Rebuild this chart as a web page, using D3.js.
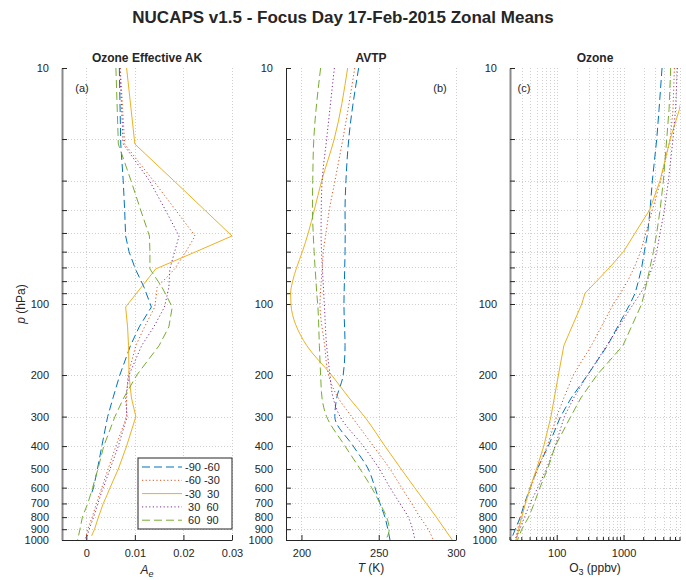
<!DOCTYPE html>
<html>
<head>
<meta charset="utf-8">
<script src="https://cdn.jsdelivr.net/npm/d3@7"></script>
<style>
  body { margin: 0; background: #fff; }
  text { font-family: "Liberation Sans", Arial, Helvetica, sans-serif; fill: #262626; }
</style>
</head>
<body>
<svg id="chart" width="686" height="580"></svg>
<script>
// zonal bands, legend order
const bandNames = ["-90 -60", "-60 -30", "-30  30", " 30  60", " 60  90"];

// (a) ozone effective averaging kernel
const akLevels = [10, 21, 30, 40, 51.5, 60, 71, 85, 103, 125, 150, 200, 250, 300, 400, 500, 600, 650, 700, 800, 900, 960, 1000];
const akValues = [
  [0.0068, 0.0071, 0.0076, 0.0079, 0.0081, 0.0088, 0.0101, 0.0119, 0.0134, 0.0109, 0.0091, 0.0069, 0.0055, 0.0044, 0.0032, 0.0023, 0.0015, 0.0009, null, null, null, null, null],
  [0.0070, 0.0079, 0.0138, 0.0184, 0.0224, 0.0205, 0.0182, 0.0146, 0.0141, 0.0120, 0.0102, 0.0086, 0.0083, 0.0083, 0.0061, 0.0045, 0.0032, 0.0026, 0.0021, 0.0012, 0.0003, 0.0000, -0.0003],
  [0.0083, 0.0100, 0.0180, 0.0244, 0.0300, 0.0226, 0.0143, 0.0113, 0.0081, 0.0085, 0.0087, 0.0088, 0.0093, 0.0102, 0.0083, 0.0066, 0.0049, 0.0042, 0.0035, 0.0025, 0.0017, 0.0011, null],
  [0.0069, 0.0076, 0.0130, 0.0163, 0.0191, 0.0182, 0.0172, 0.0170, 0.0161, 0.0139, 0.0114, 0.0088, 0.0081, 0.0084, 0.0066, 0.0049, 0.0035, 0.0029, 0.0024, 0.0015, 0.0006, 0.0002, 0.0000],
  [0.0061, 0.0066, 0.0092, 0.0112, 0.0130, 0.0131, 0.0131, 0.0156, 0.0177, 0.0170, 0.0150, 0.0104, 0.0077, 0.0059, 0.0036, 0.0024, 0.0013, 0.0008, 0.0003, -0.0008, -0.0013, -0.0016, -0.0018]
];

// (b) AVTP temperature (K)
const tLevels = [10, 20, 30, 40, 50, 60, 70, 80, 90, 100, 150, 200, 250, 300, 400, 500, 600, 700, 800, 900, 1000];
const tValues = [
  [237.0, 230.6, 228.8, 228.2, 228.3, 228.2, 228.0, 227.8, 227.6, 227.5, 228.2, 227.0, 222.8, 221.6, 233.5, 243.2, 247.6, 250.8, 254.0, 255.9, 257.3],
  [234.5, 226.8, 221.7, 218.0, 215.9, 214.2, 213.5, 212.8, 212.3, 212.0, 215.0, 217.5, 223.8, 232.5, 246.5, 257.3, 264.8, 271.3, 276.7, 282.0, 285.3],
  [229.9, 221.2, 213.1, 208.3, 204.4, 200.6, 196.9, 194.3, 193.0, 193.2, 203.4, 219.5, 230.8, 240.8, 254.0, 264.5, 273.2, 280.8, 287.3, 292.7, 297.6],
  [221.3, 216.3, 213.4, 212.8, 212.7, 213.0, 213.5, 214.0, 214.4, 214.8, 216.3, 218.5, 220.5, 225.0, 240.0, 250.4, 257.3, 263.7, 269.1, 271.9, 273.4],
  [212.4, 208.0, 207.3, 207.1, 207.6, 208.2, 208.8, 209.4, 209.9, 210.5, 211.6, 212.4, 213.3, 216.3, 228.2, 237.9, 245.4, 250.8, 255.1, 256.8, 254.5]
];

// (c) ozone (ppbv)
const o3Levels = [10, 15, 20, 30, 40, 50, 60, 70, 80, 90, 100, 150, 200, 250, 300, 400, 500, 600, 700, 800, 900, 1000];
const o3Values = [
  [3770, 3400, 3140, 2700, 2490, 2300, 2050, 1870, 1670, 1490, 1250, 575, 290, 165, 114, 75, 51, 40, 33, 28.5, 24, 20.7],
  [5770, 5500, 5000, 3600, 2700, 2150, 1800, 1450, 1150, 900, 705, 330, 177, 128, 100, 72, 52, 41, 34, 29, 26, 24],
  [9000, 6850, 5000, 3520, 2450, 1490, 1000, 620, 396, 265, 237, 128, 106, 92, 82, 64, 50, 40, 34, 30, 27, 25],
  [6400, 6000, 5500, 4700, 4100, 3520, 3140, 2700, 2250, 1800, 1400, 560, 290, 180, 130, 95, 70, 52, 40, 33, 28, 24],
  [5080, 4800, 4430, 3950, 3520, 3140, 2800, 2490, 2250, 2050, 1870, 980, 400, 230, 162, 95, 73, 56, 46, 38, 30, 26]
];

const pTicks = [10, 20, 30, 40, 50, 60, 70, 80, 90, 100, 200, 300, 400, 500, 600, 700, 800, 900, 1000];
const pLabels = [10, 100, 200, 300, 400, 500, 600, 700, 800, 900, 1000];
const akTicks = [0, 0.01, 0.02, 0.03];
const tTicks = [200, 250, 300];
const o3Major = [100, 1000];
const o3Minor = [20, 30, 40, 50, 60, 70, 80, 90, 200, 300, 400, 500, 600, 700, 800, 900, 2000, 3000, 4000, 5000, 6000, 7000];

// styles
const colors = ["#0072BD", "#D95319", "#EDB120", "#7E2F8E", "#77AC30"];
const dashes = ["8,4", "1.2,2.4", null, "1.2,2.4", "8,4"];

const svg = d3.select("#chart");
const plotTop = 68, plotBottom = 540;
const y = d3.scaleLog().domain([10, 1000]).range([plotTop, plotBottom]);

svg.append("text").attr("x", 343).attr("y", 23).attr("text-anchor", "middle")
  .attr("font-size", 17).attr("font-weight", "bold")
  .text("NUCAPS v1.5 - Focus Day 17-Feb-2015 Zonal Means");

function drawPanel(o) {
  const g = svg.append("g");
  const x = o.x;
  const [x0, x1] = x.range();

  g.append("clipPath").attr("id", "clip-" + o.tag)
    .append("rect").attr("x", x0).attr("y", plotTop).attr("width", x1 - x0).attr("height", plotBottom - plotTop);

  // grid
  const grid = g.append("g").attr("stroke", "#cfcfcf").attr("stroke-dasharray", "1,2").attr("stroke-width", 1);
  grid.selectAll("line.h").data(pTicks.slice(1)).join("line")
    .attr("x1", x0).attr("x2", x1).attr("y1", d => Math.round(y(d)) + 0.5).attr("y2", d => Math.round(y(d)) + 0.5);
  grid.selectAll("line.v").data(o.grid).join("line")
    .attr("x1", d => Math.round(x(d)) + 0.5).attr("x2", d => Math.round(x(d)) + 0.5)
    .attr("y1", plotTop).attr("y2", plotBottom);

  // y axis (ticks inward)
  const yAxis = d3.axisLeft(y).tickValues(pTicks).tickSizeInner(-5).tickSizeOuter(0).tickPadding(13)
    .tickFormat(d => pLabels.includes(d) ? d : "");
  const ya = g.append("g").attr("transform", `translate(${x0},0)`).call(yAxis);
  ya.selectAll("text").attr("font-size", 11).attr("font-family", null);
  ya.selectAll("line").attr("stroke", "#262626");
  ya.select(".domain").attr("stroke", o.axisColor).attr("stroke-width", o.axisWidth);

  // x axis (ticks inward)
  const xAxis = d3.axisBottom(x).tickValues(o.ticks).tickSizeInner(-5).tickSizeOuter(0).tickPadding(9)
    .tickFormat(o.format);
  const xa = g.append("g").attr("transform", `translate(0,${plotBottom})`).call(xAxis);
  xa.selectAll("text").attr("font-size", 11).attr("font-family", null);
  xa.selectAll("line").attr("stroke", "#262626");
  xa.select(".domain").attr("stroke", "#262626");
  if (o.minor) {
    xa.selectAll("line.minor").data(o.minor).join("line").attr("class", "minor")
      .attr("x1", d => x(d)).attr("x2", d => x(d)).attr("y1", 0).attr("y2", -3).attr("stroke", "#262626");
  }

  // profiles
  const line = d3.line().defined(d => d.v != null)
    .x(d => x(d.v)).y(d => y(d.p)).curve(o.curve);
  const lines = g.append("g").attr("clip-path", `url(#clip-${o.tag})`);
  o.values.forEach((vals, i) => {
    const pts = o.levels.map((p, j) => ({ p: p, v: vals[j] }));
    lines.append("path").datum(pts).attr("d", line)
      .attr("fill", "none").attr("stroke", colors[i]).attr("stroke-width", 1)
      .attr("stroke-dasharray", dashes[i]);
  });

  g.append("text").attr("x", (x0 + x1) / 2).attr("y", 62).attr("text-anchor", "middle")
    .attr("font-size", 12).attr("font-weight", "bold").text(o.title);
  g.append("text").attr("x", o.tagX).attr("y", 92).attr("text-anchor", "middle")
    .attr("font-size", 11).text("(" + o.tag + ")");
  return g;
}

const xA = d3.scaleLinear().domain([-0.005, 0.03]).range([62, 232]);
const xB = d3.scaleLinear().domain([190, 300]).range([286, 456]);
const xC = d3.scaleLog().domain([20, 7000]).range([510, 680]);

const gA = drawPanel({ x: xA, tag: "a", tagX: 82, title: "Ozone Effective AK", levels: akLevels, values: akValues,
  curve: d3.curveLinear, grid: akTicks, ticks: akTicks, format: d => d === 0 ? "0" : d3.format(".2f")(d),
  axisColor: "#8a8a8a", axisWidth: 2 });
drawPanel({ x: xB, tag: "b", tagX: 440, title: "AVTP", levels: tLevels, values: tValues,
  curve: d3.curveMonotoneY, grid: tTicks, ticks: tTicks, format: d3.format("d"),
  axisColor: "#262626", axisWidth: 1 });
drawPanel({ x: xC, tag: "c", tagX: 524, title: "Ozone", levels: o3Levels, values: o3Values,
  curve: d3.curveLinear, grid: o3Major.concat(o3Minor), ticks: o3Major, minor: o3Minor, format: d3.format("d"),
  axisColor: "#8a8a8a", axisWidth: 2 });

// axis labels
const yl = svg.append("text").attr("transform", "translate(25,304) rotate(-90)")
  .attr("text-anchor", "middle").attr("font-size", 12);
yl.append("tspan").attr("font-style", "italic").text("p");
yl.append("tspan").text(" (hPa)");

const la = svg.append("text").attr("x", 147).attr("y", 574).attr("text-anchor", "middle").attr("font-size", 12);
la.append("tspan").attr("font-style", "italic").text("A");
la.append("tspan").attr("font-style", "italic").attr("font-size", 9).attr("dy", 3).text("e");

const lb = svg.append("text").attr("x", 371).attr("y", 572).attr("text-anchor", "middle").attr("font-size", 12);
lb.append("tspan").attr("font-style", "italic").text("T");
lb.append("tspan").text(" (K)");

const lc = svg.append("text").attr("x", 595).attr("y", 572).attr("text-anchor", "middle").attr("font-size", 12);
lc.append("tspan").text("O");
lc.append("tspan").attr("font-size", 9).attr("dy", 3).text("3");
lc.append("tspan").attr("dy", -3).text(" (ppbv)");

// legend
const leg = gA.append("g").attr("transform", "translate(138,458)");
leg.append("rect").attr("width", 94).attr("height", 71).attr("fill", "#fff").attr("stroke", "#262626").attr("stroke-width", 1);
bandNames.forEach((name, i) => {
  const ly = 9 + i * 13.3;
  leg.append("line").attr("x1", 4).attr("x2", 44).attr("y1", ly).attr("y2", ly)
    .attr("stroke", colors[i]).attr("stroke-width", 1).attr("stroke-dasharray", dashes[i]);
  leg.append("text").attr("x", 47).attr("y", ly + 4).attr("font-size", 11)
    .style("white-space", "pre").text(name);
});
</script>
</body>
</html>
